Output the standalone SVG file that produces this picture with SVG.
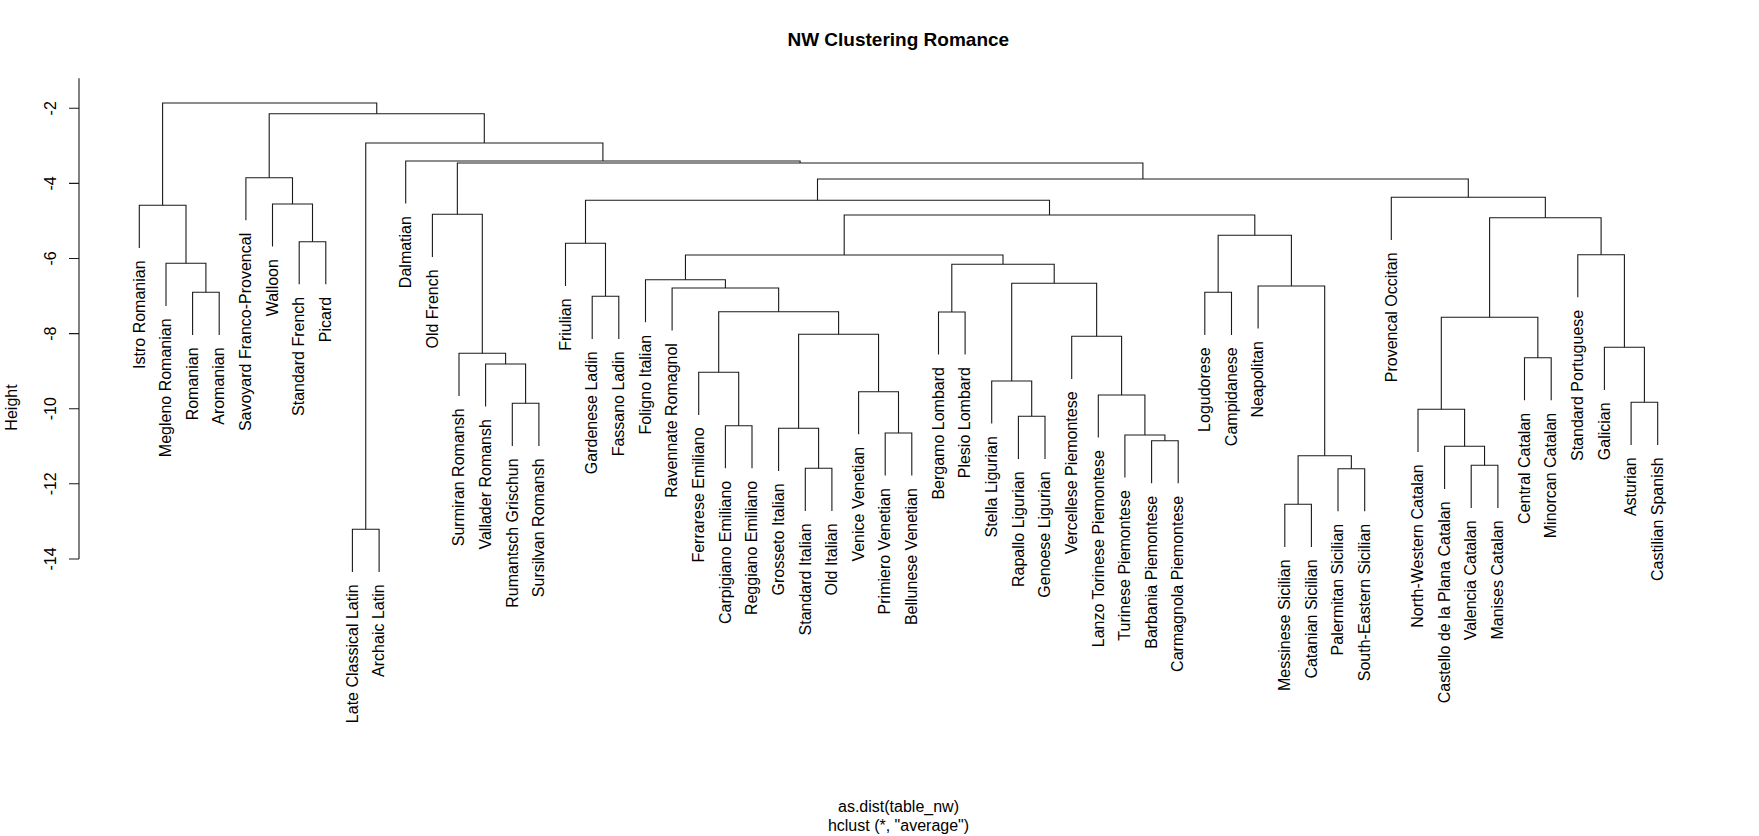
<svg xmlns="http://www.w3.org/2000/svg" width="1759" height="836" viewBox="0 0 1759 836">
<style>
text{font-family:"Liberation Sans",Arial,Helvetica,sans-serif;fill:#000}
.lab{font-size:16px;text-anchor:end}
.tk{font-size:16px;text-anchor:middle}
.ttl{font-size:19px;font-weight:bold;text-anchor:middle}
.sub{font-size:16px;text-anchor:middle}
.ln{fill:none;stroke:#1a1a1a;stroke-width:1.1}
</style>
<rect width="1759" height="836" fill="#fff"/>
<text class="ttl" x="898.3" y="45.7">NW Clustering Romance</text>
<g id="axis">
<path class="ln" d="M79 78.3V559M69 108.3H79M69 183.4H79M69 258.5H79M69 333.6H79M69 408.7H79M69 483.8H79M69 559H79"/>
<text class="tk" transform="translate(55.5,108.3) rotate(-90)">-2</text>
<text class="tk" transform="translate(55.5,183.4) rotate(-90)">-4</text>
<text class="tk" transform="translate(55.5,258.5) rotate(-90)">-6</text>
<text class="tk" transform="translate(55.5,333.6) rotate(-90)">-8</text>
<text class="tk" transform="translate(55.5,408.7) rotate(-90)">-10</text>
<text class="tk" transform="translate(55.5,483.8) rotate(-90)">-12</text>
<text class="tk" transform="translate(55.5,559) rotate(-90)">-14</text>
<text class="tk" transform="translate(17,407.5) rotate(-90)">Height</text>
</g>
<g id="connectors" class="ln">
<path class="ln" d="M192.6 334.9V292.3H219.2V334.9"/>
<path class="ln" d="M166.0 305.9V263.3H205.9V292.3"/>
<path class="ln" d="M139.3 247.9V205.3H186.0V263.3"/>
<path class="ln" d="M299.2 284.3V241.7H325.8V284.3"/>
<path class="ln" d="M272.5 246.6V204H312.5V241.7"/>
<path class="ln" d="M245.9 220.3V177.7H292.5V204"/>
<path class="ln" d="M352.4 571.9V529.3H379.1V571.9"/>
<path class="ln" d="M512.3 445.9V403.3H538.9V445.9"/>
<path class="ln" d="M485.6 406.6V364H525.6V403.3"/>
<path class="ln" d="M459.0 395.9V353.3H505.6V364"/>
<path class="ln" d="M432.4 256.9V214.3H482.3V353.3"/>
<path class="ln" d="M592.2 338.9V296.3H618.8V338.9"/>
<path class="ln" d="M565.5 285.9V243.3H605.5V296.3"/>
<path class="ln" d="M725.4 468.3V425.7H752.0V468.3"/>
<path class="ln" d="M698.7 414.9V372.3H738.7V425.7"/>
<path class="ln" d="M805.3 510.9V468.3H831.9V510.9"/>
<path class="ln" d="M778.6 470.9V428.3H818.6V468.3"/>
<path class="ln" d="M885.2 475.6V433H911.8V475.6"/>
<path class="ln" d="M858.6 434.3V391.7H898.5V433"/>
<path class="ln" d="M798.6 428.3V334.3H878.55V391.7"/>
<path class="ln" d="M718.7 372.3V311.7H838.6V334.3"/>
<path class="ln" d="M672.1 330.6V288H778.65V311.7"/>
<path class="ln" d="M645.5 322.3V279.7H725.4V288"/>
<path class="ln" d="M938.5 354.6V312H965.1V354.6"/>
<path class="ln" d="M1018.4 458.9V416.3H1045.0V458.9"/>
<path class="ln" d="M991.7 423.6V381H1031.7V416.3"/>
<path class="ln" d="M1151.6 483.3V440.7H1178.2V483.3"/>
<path class="ln" d="M1124.9 477.6V435H1164.9V440.7"/>
<path class="ln" d="M1098.3 437.6V395H1144.9V435"/>
<path class="ln" d="M1071.7 378.9V336.3H1121.6V395"/>
<path class="ln" d="M1011.7 381V283.3H1096.65V336.3"/>
<path class="ln" d="M951.8 312V264.3H1054.2V283.3"/>
<path class="ln" d="M685.45 279.7V255H1003.0V264.3"/>
<path class="ln" d="M1204.8 334.9V292.3H1231.5V334.9"/>
<path class="ln" d="M1284.8 546.9V504.3H1311.4V546.9"/>
<path class="ln" d="M1338.0 511.3V468.7H1364.7V511.3"/>
<path class="ln" d="M1298.1 504.3V455.7H1351.35V468.7"/>
<path class="ln" d="M1258.1 328.6V286H1324.7V455.7"/>
<path class="ln" d="M1218.15 292.3V235.3H1291.4V286"/>
<path class="ln" d="M844.2 255V215H1254.8V235.3"/>
<path class="ln" d="M585.5 243.3V200.3H1049.5V215"/>
<path class="ln" d="M1471.2 507.9V465.3H1497.9V507.9"/>
<path class="ln" d="M1444.6 488.9V446.3H1484.55V465.3"/>
<path class="ln" d="M1418.0 451.9V409.3H1464.6V446.3"/>
<path class="ln" d="M1524.5 400.3V357.7H1551.2V400.3"/>
<path class="ln" d="M1441.3 409.3V317.3H1537.85V357.7"/>
<path class="ln" d="M1631.1 444.9V402.3H1657.7V444.9"/>
<path class="ln" d="M1604.4 389.9V347.3H1644.4V402.3"/>
<path class="ln" d="M1577.8 297.3V254.7H1624.4V347.3"/>
<path class="ln" d="M1489.6 317.3V217.7H1601.1V254.7"/>
<path class="ln" d="M1391.3 239.9V197.3H1545.35V217.7"/>
<path class="ln" d="M817.5 200.3V179H1468.3V197.3"/>
<path class="ln" d="M457.35 214.3V163H1142.9V179"/>
<path class="ln" d="M405.7 203.6V161H800.1V163"/>
<path class="ln" d="M365.75 529.3V143H602.9V161"/>
<path class="ln" d="M269.2 177.7V113.7H484.3V143"/>
<path class="ln" d="M162.6 205.3V103H376.75V113.7"/>
</g>
<g id="leaves">
<g id="n0"><text class="lab" transform="translate(144.5,260.4) rotate(-90)">Istro Romanian</text></g>
<g id="n1"><text class="lab" transform="translate(171.2,318.4) rotate(-90)">Megleno Romanian</text></g>
<g id="n2"><text class="lab" transform="translate(197.8,347.4) rotate(-90)">Romanian</text></g>
<g id="n3"><text class="lab" transform="translate(224.4,347.4) rotate(-90)">Aromanian</text></g>
<g id="n4"><text class="lab" transform="translate(251.1,232.8) rotate(-90)">Savoyard Franco-Provencal</text></g>
<g id="n5"><text class="lab" transform="translate(277.7,259.1) rotate(-90)">Walloon</text></g>
<g id="n6"><text class="lab" transform="translate(304.4,296.8) rotate(-90)">Standard French</text></g>
<g id="n7"><text class="lab" transform="translate(331.0,296.8) rotate(-90)">Picard</text></g>
<g id="n8"><text class="lab" transform="translate(357.6,584.4) rotate(-90)">Late Classical Latin</text></g>
<g id="n9"><text class="lab" transform="translate(384.3,584.4) rotate(-90)">Archaic Latin</text></g>
<g id="n10"><text class="lab" transform="translate(410.9,216.1) rotate(-90)">Dalmatian</text></g>
<g id="n11"><text class="lab" transform="translate(437.6,269.4) rotate(-90)">Old French</text></g>
<g id="n12"><text class="lab" transform="translate(464.2,408.4) rotate(-90)">Surmiran Romansh</text></g>
<g id="n13"><text class="lab" transform="translate(490.8,419.1) rotate(-90)">Vallader Romansh</text></g>
<g id="n14"><text class="lab" transform="translate(517.5,458.4) rotate(-90)">Rumantsch Grischun</text></g>
<g id="n15"><text class="lab" transform="translate(544.1,458.4) rotate(-90)">Sursilvan Romansh</text></g>
<g id="n16"><text class="lab" transform="translate(570.7,298.4) rotate(-90)">Friulian</text></g>
<g id="n17"><text class="lab" transform="translate(597.4,351.4) rotate(-90)">Gardenese Ladin</text></g>
<g id="n18"><text class="lab" transform="translate(624.0,351.4) rotate(-90)">Fassano Ladin</text></g>
<g id="n19"><text class="lab" transform="translate(650.7,334.8) rotate(-90)">Foligno Italian</text></g>
<g id="n20"><text class="lab" transform="translate(677.3,343.1) rotate(-90)">Ravennate Romagnol</text></g>
<g id="n21"><text class="lab" transform="translate(703.9,427.4) rotate(-90)">Ferrarese Emiliano</text></g>
<g id="n22"><text class="lab" transform="translate(730.6,480.8) rotate(-90)">Carpigiano Emiliano</text></g>
<g id="n23"><text class="lab" transform="translate(757.2,480.8) rotate(-90)">Reggiano Emiliano</text></g>
<g id="n24"><text class="lab" transform="translate(783.8,483.4) rotate(-90)">Grosseto Italian</text></g>
<g id="n25"><text class="lab" transform="translate(810.5,523.4) rotate(-90)">Standard Italian</text></g>
<g id="n26"><text class="lab" transform="translate(837.1,523.4) rotate(-90)">Old Italian</text></g>
<g id="n27"><text class="lab" transform="translate(863.8,446.8) rotate(-90)">Venice Venetian</text></g>
<g id="n28"><text class="lab" transform="translate(890.4,488.1) rotate(-90)">Primiero Venetian</text></g>
<g id="n29"><text class="lab" transform="translate(917.0,488.1) rotate(-90)">Bellunese Venetian</text></g>
<g id="n30"><text class="lab" transform="translate(943.7,367.1) rotate(-90)">Bergamo Lombard</text></g>
<g id="n31"><text class="lab" transform="translate(970.3,367.1) rotate(-90)">Plesio Lombard</text></g>
<g id="n32"><text class="lab" transform="translate(996.9,436.1) rotate(-90)">Stella Ligurian</text></g>
<g id="n33"><text class="lab" transform="translate(1023.6,471.4) rotate(-90)">Rapallo Ligurian</text></g>
<g id="n34"><text class="lab" transform="translate(1050.2,471.4) rotate(-90)">Genoese Ligurian</text></g>
<g id="n35"><text class="lab" transform="translate(1076.9,391.4) rotate(-90)">Vercellese Piemontese</text></g>
<g id="n36"><text class="lab" transform="translate(1103.5,450.1) rotate(-90)">Lanzo Torinese Piemontese</text></g>
<g id="n37"><text class="lab" transform="translate(1130.1,490.1) rotate(-90)">Turinese Piemontese</text></g>
<g id="n38"><text class="lab" transform="translate(1156.8,495.8) rotate(-90)">Barbania Piemontese</text></g>
<g id="n39"><text class="lab" transform="translate(1183.4,495.8) rotate(-90)">Carmagnola Piemontese</text></g>
<g id="n40"><text class="lab" transform="translate(1210.0,347.4) rotate(-90)">Logudorese</text></g>
<g id="n41"><text class="lab" transform="translate(1236.7,347.4) rotate(-90)">Campidanese</text></g>
<g id="n42"><text class="lab" transform="translate(1263.3,341.1) rotate(-90)">Neapolitan</text></g>
<g id="n43"><text class="lab" transform="translate(1290.0,559.4) rotate(-90)">Messinese Sicilian</text></g>
<g id="n44"><text class="lab" transform="translate(1316.6,559.4) rotate(-90)">Catanian Sicilian</text></g>
<g id="n45"><text class="lab" transform="translate(1343.2,523.8) rotate(-90)">Palermitan Sicilian</text></g>
<g id="n46"><text class="lab" transform="translate(1369.9,523.8) rotate(-90)">South-Eastern Sicilian</text></g>
<g id="n47"><text class="lab" transform="translate(1396.5,252.4) rotate(-90)">Provencal Occitan</text></g>
<g id="n48"><text class="lab" transform="translate(1423.2,464.4) rotate(-90)">North-Western Catalan</text></g>
<g id="n49"><text class="lab" transform="translate(1449.8,501.4) rotate(-90)">Castello de la Plana Catalan</text></g>
<g id="n50"><text class="lab" transform="translate(1476.4,520.4) rotate(-90)">Valencia Catalan</text></g>
<g id="n51"><text class="lab" transform="translate(1503.1,520.4) rotate(-90)">Manises Catalan</text></g>
<g id="n52"><text class="lab" transform="translate(1529.7,412.8) rotate(-90)">Central Catalan</text></g>
<g id="n53"><text class="lab" transform="translate(1556.4,412.8) rotate(-90)">Minorcan Catalan</text></g>
<g id="n54"><text class="lab" transform="translate(1583.0,309.8) rotate(-90)">Standard Portuguese</text></g>
<g id="n55"><text class="lab" transform="translate(1609.6,402.4) rotate(-90)">Galician</text></g>
<g id="n56"><text class="lab" transform="translate(1636.3,457.4) rotate(-90)">Asturian</text></g>
<g id="n57"><text class="lab" transform="translate(1662.9,457.4) rotate(-90)">Castilian Spanish</text></g>
</g>
<text class="sub" x="898.5" y="812">as.dist(table_nw)</text>
<text class="sub" x="898.5" y="830.5">hclust (*, "average")</text>
</svg>
